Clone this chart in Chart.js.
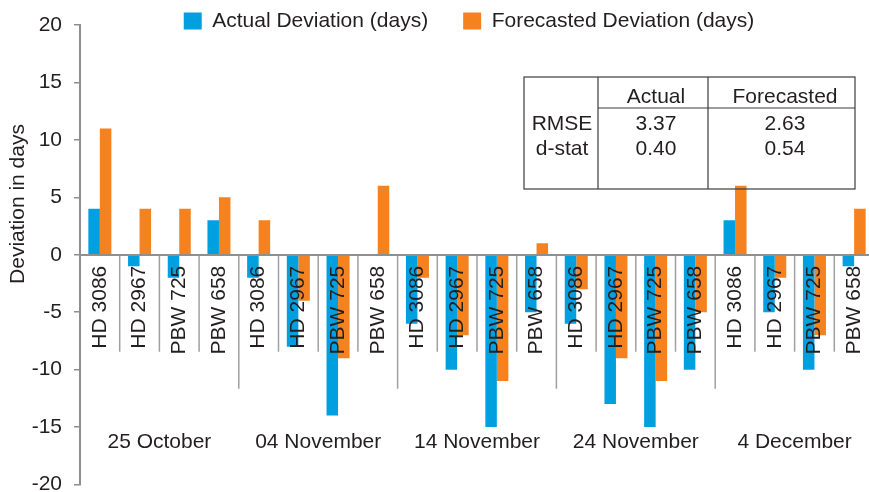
<!DOCTYPE html>
<html>
<head>
<meta charset="utf-8">
<script src="https://cdn.jsdelivr.net/npm/chart.js@4/dist/chart.umd.min.js"></script>
<style>
  html, body { margin: 0; padding: 0; background: #fff; overflow: hidden; width: 869px; height: 492px; }
  #wrap { width: 874px; height: 492px; }
</style>
</head>
<body>
<div id="wrap"><canvas id="chart" width="874" height="492"></canvas></div>
<script>
// Sowing dates and wheat varieties
const dates = ['25 October', '04 November', '14 November', '24 November', '4 December'];
const varieties = ['HD 3086', 'HD 2967', 'PBW 725', 'PBW 658'];

// Deviation in days, one value per variety within each sowing date
const actualDeviation   = [4, -1, -2, 3,   -2, -8, -14, 0,   -6, -10, -15, -5,   -6, -13, -15, -10,   3, -5, -10, -1];
const forecastDeviation = [11, 4, 4, 5,    3, -4, -9, 6,     -2, -7, -11, 1,     -3, -9, -11, -5,     6, -2, -7, 4];

// Value axis ticks
const yTicks = [-20, -15, -10, -5, 0, 5, 10, 15, 20];

// Summary statistics
const statNames = ['RMSE', 'd-stat'];
const statColumns = ['Actual', 'Forecasted'];
const rmse = [3.37, 2.63];
const dStat = [0.40, 0.54];

const FONT = '"Liberation Sans", Arial, Helvetica, sans-serif';
const INK = '#231f20';
const AXIS = '#8f8f8f';
const BLUE = '#00a0e0';
const ORANGE = '#f5821f';

const labels = dates.flatMap(() => varieties);

Chart.defaults.font.family = FONT;
Chart.defaults.font.size = 21;
Chart.defaults.color = INK;

// Separators, date names, axis title and the statistics table
const extras = {
  id: 'extras',
  afterLayout(chart) {
    // legend row sits a little right of centre, overlapping the plot's top edge
    const lg = chart.legend;
    const dx = 32, top = -24.5;
    lg.left += dx; lg.right += dx;
    lg.top = top; lg.bottom = 45;
  },
  afterDraw(chart) {
    const ctx = chart.ctx, x = chart.scales.x, y = chart.scales.y;
    const y0 = y.getPixelForValue(0);
    const n = varieties.length;
    ctx.save();

    ctx.strokeStyle = '#a0a0a0';
    ctx.lineWidth = 1.5;
    for (let i = 1; i < labels.length; i++) {
      const bx = (x.getPixelForValue(i - 1) + x.getPixelForValue(i)) / 2;
      const len = i % n === 0 ? 134 : 97;
      ctx.beginPath();
      ctx.moveTo(bx, y0 + 1);
      ctx.lineTo(bx, y0 + len);
      ctx.stroke();
    }

    ctx.fillStyle = INK;
    ctx.font = '21px ' + FONT;
    ctx.textAlign = 'center';
    ctx.textBaseline = 'middle';
    dates.forEach((d, g) => {
      const a = x.getPixelForValue(g * n), b = x.getPixelForValue(g * n + n - 1);
      ctx.fillText(d, (a + b) / 2, y0 + 187);
    });

    ctx.save();
    ctx.translate(18.5, 204);
    ctx.rotate(-Math.PI / 2);
    ctx.fillText('Deviation in days', 0, 0);
    ctx.restore();

    // statistics table
    const T = { left: 524, top: 77, right: 855, bottom: 189, col1: 598, col2: 708, head: 108 };
    ctx.strokeStyle = '#3c3c3c';
    ctx.lineWidth = 1.2;
    ctx.strokeRect(T.left, T.top, T.right - T.left, T.bottom - T.top);
    ctx.beginPath();
    ctx.moveTo(T.col1, T.top); ctx.lineTo(T.col1, T.bottom);
    ctx.moveTo(T.col2, T.top); ctx.lineTo(T.col2, T.bottom);
    ctx.moveTo(T.col1, T.head); ctx.lineTo(T.right, T.head);
    ctx.stroke();

    ctx.textBaseline = 'alphabetic';
    const colX = [656, 785];
    statColumns.forEach((c, j) => ctx.fillText(c, colX[j], 103));
    const rows = [rmse, dStat];
    const rowY = [130, 155];
    statNames.forEach((s, r) => {
      ctx.fillText(s, 562, rowY[r]);
      rows[r].forEach((v, j) => ctx.fillText(v.toFixed(2), colX[j], rowY[r]));
    });

    ctx.restore();
  }
};

new Chart(document.getElementById('chart'), {
  type: 'bar',
  data: {
    labels,
    datasets: [
      { label: 'Actual Deviation (days)', data: actualDeviation, backgroundColor: BLUE, borderWidth: 0 },
      { label: 'Forecasted Deviation (days)', data: forecastDeviation, backgroundColor: ORANGE, borderWidth: 0 }
    ]
  },
  options: {
    responsive: false,
    animation: false,
    devicePixelRatio: 1,
    layout: { padding: 0 },
    datasets: { bar: { barPercentage: 1, categoryPercentage: 0.58 } },
    plugins: {
      tooltip: { enabled: false },
      legend: {
        position: 'top',
        maxHeight: 25,
        labels: { boxWidth: 18, boxHeight: 17, padding: 35, color: INK, font: { size: 21 } }
      }
    },
    scales: {
      x: {
        position: { y: 0 },
        afterFit(scale) { scale.paddingLeft = 0; scale.paddingRight = 0; },
        grid: { display: false, drawTicks: false },
        border: { display: true, color: AXIS, width: 2, z: 1 },
        ticks: {
          z: 1,
          autoSkip: false, minRotation: 90, maxRotation: 90, padding: 11,
          color: INK, font: { size: 21, lineHeight: 0.9 }
        }
      },
      y: {
        min: yTicks[0],
        max: yTicks[yTicks.length - 1],
        afterFit(scale) { scale.width = 80; scale.paddingTop = 0; scale.paddingBottom = 7.5; },
        grid: { drawOnChartArea: false, drawTicks: true, tickLength: 6, color: AXIS, lineWidth: 1.5 },
        border: { display: true, color: AXIS, width: 2 },
        ticks: { stepSize: yTicks[1] - yTicks[0], padding: 12, color: INK, font: { size: 21 } }
      }
    }
  },
  plugins: [extras]
});
</script>
</body>
</html>
